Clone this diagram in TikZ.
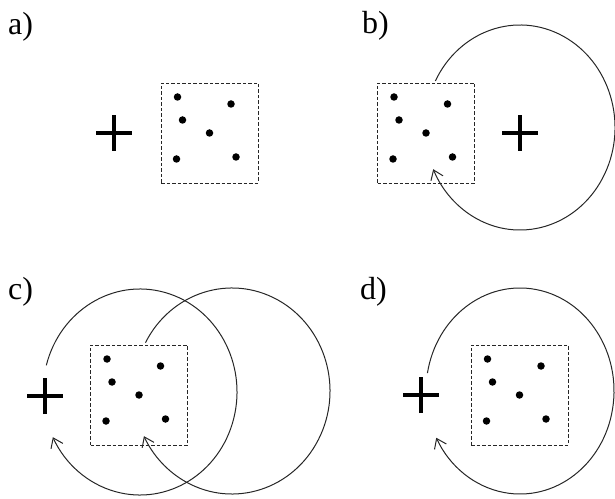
\documentclass[tikz,border=0pt]{standalone}
\usepackage{fontspec}
\setmainfont{Liberation Serif}
\usetikzlibrary{arrows.meta}
\tikzset{
  dbox/.style={draw=black!85, dash pattern=on 3.5pt off 2pt, line width=0.8pt, minimum width=97pt, minimum height=100pt, inner sep=0pt},
  dotn/.style={circle, fill=black, inner sep=0pt, minimum size=7.5pt},
  plusline/.style={line width=3.6pt, black},
  loopline/.style={line width=1pt, black!85, -{Straight Barb[length=9pt,width=13pt,line width=1pt]}},
  lbl/.style={anchor=base west, inner sep=0pt, font=\fontsize{32}{32}\selectfont}
}
\newcommand\dotbox[2]{%
  \node[dbox] (#1) at (#2) {};
  \foreach \dx/\dy [count=\i] in {-32/36,21.5/29,-27/13,0/0,-33/-26,26.5/-24}
    \node[dotn] (#1d\i) at ([shift={(\dx pt,\dy pt)}]#1.center) {};
}
\newcommand\plussign[2]{%
  \coordinate (#1) at (#2);
  \draw[plusline] ([xshift=-18pt]#1) -- ([xshift=18pt]#1);
  \draw[plusline] ([yshift=-18pt]#1) -- ([yshift=18pt]#1);
}
\begin{document}
\begin{tikzpicture}[x=1pt,y=1pt]
\useasboundingbox (0,0) rectangle (615,498);
% panel a
\node[lbl] (la) at (8,463) {a)};
\dotbox{ba}{209.5,365}
\plussign{pa}{114,365}
% panel b
\node[lbl] (lb) at (362,464) {b)};
\dotbox{bb}{426,365}
\plussign{pb}{520,365}
\coordinate (cb) at (520,370.5);
\draw[loopline] (cb) ++(153:95 and 102.5) arc[start angle=153,end angle=-156,x radius=95,y radius=102.5];
% panel c
\node[lbl] (lc) at (8,198) {c)};
\dotbox{bc}{139,103}
\plussign{pc}{45,102}
\coordinate (ccl) at (140,106);
\coordinate (ccr) at (232,107);
\draw[loopline] (ccl) ++(165:97 and 103) arc[start angle=165,end angle=-154,x radius=97,y radius=103];
\draw[loopline] (ccr) ++(152:98 and 103) arc[start angle=152,end angle=-154,x radius=98,y radius=103];
% panel d
\node[lbl] (ld) at (360,198) {d)};
\dotbox{bd}{519.5,103}
\plussign{pd}{421,103}
\coordinate (cd) at (520,107);
\draw[loopline] (cd) ++(170:94 and 103) arc[start angle=170,end angle=-153,x radius=94,y radius=103];
\end{tikzpicture}
\end{document}
